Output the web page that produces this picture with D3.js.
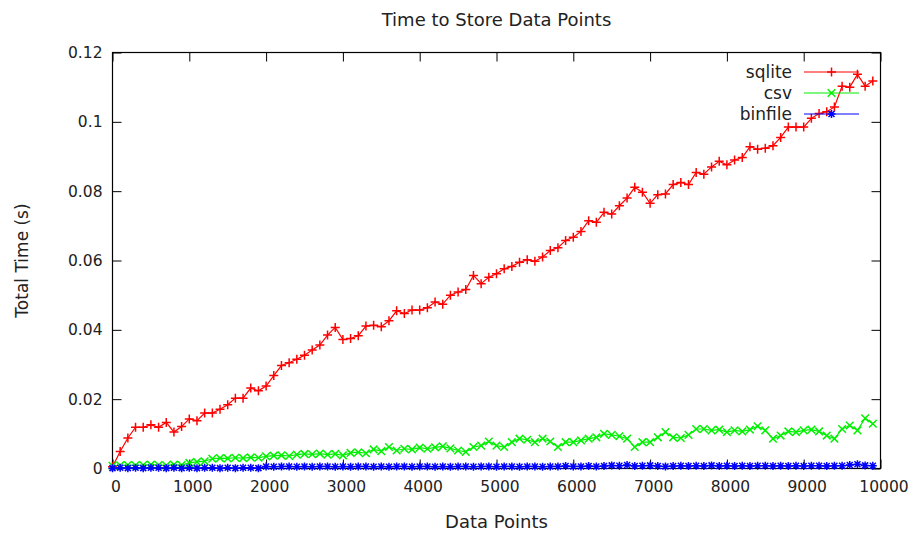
<!DOCTYPE html>
<html>
<head>
<meta charset="utf-8">
<script src="https://cdn.jsdelivr.net/npm/d3@7"></script>
<style>
    body { margin: 0; background: #fff; }
    svg { display: block; }
    text { font-family: "DejaVu Sans", sans-serif; fill: #222; }
    .axis text { font-size: 15.5px; }
    .axis .tick line { stroke: #000; stroke-width: 1; }
    .label { font-size: 18px; }
    .ylabel { font-size: 17px; }
    .legend text { font-size: 17px; }
</style>
</head>
<body>
<div id="view"></div>
<script>

// number of data points stored (x), 0..9900 in steps of 100
var dataPoints = d3.range(0, 10000, 100);

var sqlite = [
    0.0005, 0.0049, 0.0088, 0.0119, 0.0119, 0.0126, 0.0119, 0.0133, 0.0105, 0.0121,
    0.0143, 0.0138, 0.0160, 0.0160, 0.0171, 0.0184, 0.0203, 0.0203, 0.0232, 0.0224,
    0.0238, 0.0268, 0.0297, 0.0305, 0.0315, 0.0327, 0.0342, 0.0356, 0.0385, 0.0407,
    0.0372, 0.0375, 0.0383, 0.0411, 0.0413, 0.0409, 0.0426, 0.0455, 0.0447, 0.0457,
    0.0457, 0.0464, 0.0480, 0.0474, 0.0500, 0.0509, 0.0516, 0.0557, 0.0533, 0.0552,
    0.0562, 0.0576, 0.0583, 0.0595, 0.0602, 0.0598, 0.0610, 0.0629, 0.0637, 0.0658,
    0.0667, 0.0684, 0.0715, 0.0710, 0.0739, 0.0734, 0.0758, 0.0780, 0.0811, 0.0797,
    0.0765, 0.0790, 0.0792, 0.0819, 0.0825, 0.0819, 0.0854, 0.0849, 0.0870, 0.0886,
    0.0876, 0.0890, 0.0897, 0.0928, 0.0921, 0.0924, 0.0931, 0.0955, 0.0985, 0.0985,
    0.0985, 0.1010, 0.1024, 0.1029, 0.1043, 0.1103, 0.1100, 0.1137, 0.1103, 0.1118,
];

var csv = [
    0.0008, 0.0009, 0.0010, 0.0009, 0.0010, 0.0011, 0.0010, 0.0009, 0.0011, 0.0010,
    0.0016, 0.0019, 0.0021, 0.0028, 0.0030, 0.0029, 0.0031, 0.0030, 0.0032, 0.0031,
    0.0035, 0.0037, 0.0038, 0.0036, 0.0040, 0.0042, 0.0041, 0.0043, 0.0040, 0.0042,
    0.0038, 0.0045, 0.0047, 0.0044, 0.0055, 0.0050, 0.0062, 0.0052, 0.0057, 0.0055,
    0.0060, 0.0057, 0.0061, 0.0064, 0.0058, 0.0052, 0.0048, 0.0062, 0.0066, 0.0078,
    0.0066, 0.0062, 0.0076, 0.0086, 0.0083, 0.0076, 0.0086, 0.0078, 0.0062, 0.0076,
    0.0076, 0.0081, 0.0086, 0.0090, 0.0100, 0.0097, 0.0093, 0.0086, 0.0062, 0.0076,
    0.0076, 0.0090, 0.0105, 0.0090, 0.0088, 0.0097, 0.0114, 0.0114, 0.0110, 0.0112,
    0.0105, 0.0110, 0.0107, 0.0112, 0.0122, 0.0110, 0.0086, 0.0095, 0.0107, 0.0105,
    0.0110, 0.0112, 0.0107, 0.0095, 0.0086, 0.0114, 0.0124, 0.0110, 0.0145, 0.0129,
];

var binfile = [
    0.0001, 0.0002, 0.0001, 0.0002, 0.0001, 0.0002, 0.0002, 0.0001, 0.0002, 0.0001,
    0.0002, 0.0001, 0.0002, 0.0002, 0.0001, 0.0002, 0.0001, 0.0002, 0.0002, 0.0001,
    0.0006, 0.0005, 0.0006, 0.0006, 0.0005, 0.0006, 0.0005, 0.0006, 0.0006, 0.0005,
    0.0006, 0.0005, 0.0006, 0.0006, 0.0005, 0.0006, 0.0005, 0.0006, 0.0006, 0.0005,
    0.0006, 0.0006, 0.0005, 0.0006, 0.0005, 0.0006, 0.0006, 0.0005, 0.0006, 0.0006,
    0.0005, 0.0006, 0.0006, 0.0005, 0.0006, 0.0006, 0.0005, 0.0006, 0.0006, 0.0007,
    0.0006, 0.0006, 0.0007, 0.0006, 0.0007, 0.0009, 0.0008, 0.0010, 0.0007, 0.0008,
    0.0009, 0.0007, 0.0006, 0.0007, 0.0008, 0.0007, 0.0008, 0.0007, 0.0009, 0.0007,
    0.0008, 0.0007, 0.0008, 0.0007, 0.0008, 0.0008, 0.0007, 0.0008, 0.0007, 0.0008,
    0.0007, 0.0008, 0.0008, 0.0007, 0.0008, 0.0008, 0.0010, 0.0012, 0.0009, 0.0008,
];

var seriesNames = ["sqlite", "csv", "binfile"];
var seriesColors = ["#ff0000", "#00f000", "#0000ff"];
var xTicks = d3.range(0, 10001, 1000);
var yTicks = [0, 0.02, 0.04, 0.06, 0.08, 0.1, 0.12];

var view = {
    width: 913,
    height: 533,
    left: 112.5,
    right: 880.5,
    top: 52.5,
    bottom: 468.5,
    tick: 9,
};

// gnuplot point types: + , x , *
var markers = {
    plus: "M-4.5,0H4.5M0,-4.5V4.5",
    cross: "M-3.8,-3.8L3.8,3.8M-3.8,3.8L3.8,-3.8",
    star: "M-4,0H4M0,-4V4M-3,-3L3,3M-3,3L3,-3",
};
var markerOf = ["plus", "cross", "star"];

var x = d3.scaleLinear().domain([0, 10000]).range([view.left, view.right]);
var y = d3.scaleLinear().domain([0, 0.12]).range([view.bottom, view.top]);

var svg = d3.select("#view").append("svg")
    .attr("width", view.width)
    .attr("height", view.height)
;

drawAxes();
drawSeries();
drawLegend();
drawLabels();

function drawAxes() {
    var fmt = d => String(+d.toFixed(2));
    svg.append("g")
        .attr("class", "axis")
        .attr("transform", `translate(${view.left},0)`)
        .call(d3.axisLeft(y).tickValues(yTicks).tickSize(-view.tick).tickPadding(10).tickFormat(fmt))
        .call(g => g.select(".domain").remove())
    ;
    svg.append("g")
        .attr("class", "axis")
        .attr("transform", `translate(${view.right},0)`)
        .call(d3.axisRight(y).tickValues(yTicks).tickSize(-view.tick).tickFormat(""))
        .call(g => g.select(".domain").remove())
    ;
    svg.append("g")
        .attr("class", "axis")
        .attr("transform", `translate(0,${view.bottom})`)
        .call(d3.axisBottom(x).tickValues(xTicks).tickSize(-view.tick).tickPadding(12).tickFormat(d3.format("d")))
        .call(g => g.select(".domain").remove())
        .call(g => g.selectAll(".tick text").attr("dx", 3))
    ;
    svg.append("g")
        .attr("class", "axis")
        .attr("transform", `translate(0,${view.top})`)
        .call(d3.axisTop(x).tickValues(xTicks).tickSize(-view.tick).tickFormat(""))
        .call(g => g.select(".domain").remove())
    ;
    svg.append("rect")
        .attr("x", view.left)
        .attr("y", view.top)
        .attr("width", view.right - view.left)
        .attr("height", view.bottom - view.top)
        .attr("fill", "none")
        .attr("stroke", "#000")
        .attr("stroke-width", 1.2)
    ;
}

function drawSeries() {
    var all = [sqlite, csv, binfile];
    var line = d3.line()
        .x((d, i) => x(dataPoints[i]))
        .y(d => y(d))
    ;
    var groups = svg.selectAll(".series")
        .data(all)
        .enter()
        .append("g")
        .attr("class", "series")
        .attr("stroke", (d, i) => seriesColors[i])
        .attr("fill", "none")
    ;
    groups.append("path")
        .attr("stroke-width", 1.2)
        .attr("d", d => line(d))
    ;
    groups.each(function(d, k) {
        d3.select(this).selectAll(".pt")
            .data(d)
            .enter()
            .append("path")
            .attr("class", "pt")
            .attr("stroke-width", 1.5)
            .attr("transform", (v, i) => `translate(${x(dataPoints[i])},${y(v)})`)
            .attr("d", markers[markerOf[k]])
        ;
    });
}

function drawLegend() {
    var rows = svg.append("g")
        .attr("class", "legend")
        .selectAll("g")
        .data(seriesNames)
        .enter()
        .append("g")
        .attr("transform", (d, i) => `translate(0,${72 + i * 21})`)
    ;
    rows.append("text")
        .attr("x", 792)
        .attr("dy", "0.35em")
        .attr("text-anchor", "end")
        .text(d => d)
    ;
    rows.append("line")
        .attr("x1", 804)
        .attr("x2", 859)
        .attr("stroke", (d, i) => seriesColors[i])
        .attr("stroke-width", 1.2)
    ;
    rows.append("path")
        .attr("transform", "translate(831.5,0)")
        .attr("d", (d, i) => markers[markerOf[i]])
        .attr("stroke", (d, i) => seriesColors[i])
        .attr("stroke-width", 1.5)
        .attr("fill", "none")
    ;
}

function drawLabels() {
    svg.append("text")
        .attr("class", "label")
        .attr("x", (view.left + view.right) / 2)
        .attr("y", 20)
        .attr("dy", "0.35em")
        .attr("text-anchor", "middle")
        .text("Time to Store Data Points")
    ;
    svg.append("text")
        .attr("class", "label")
        .attr("x", (view.left + view.right) / 2)
        .attr("y", 522)
        .attr("dy", "0.35em")
        .attr("text-anchor", "middle")
        .text("Data Points")
    ;
    svg.append("text")
        .attr("class", "ylabel")
        .attr("transform", `translate(22,${(view.top + view.bottom) / 2}) rotate(-90)`)
        .attr("dy", "0.35em")
        .attr("text-anchor", "middle")
        .text("Total Time (s)")
    ;
}
</script>
</body>
</html>
